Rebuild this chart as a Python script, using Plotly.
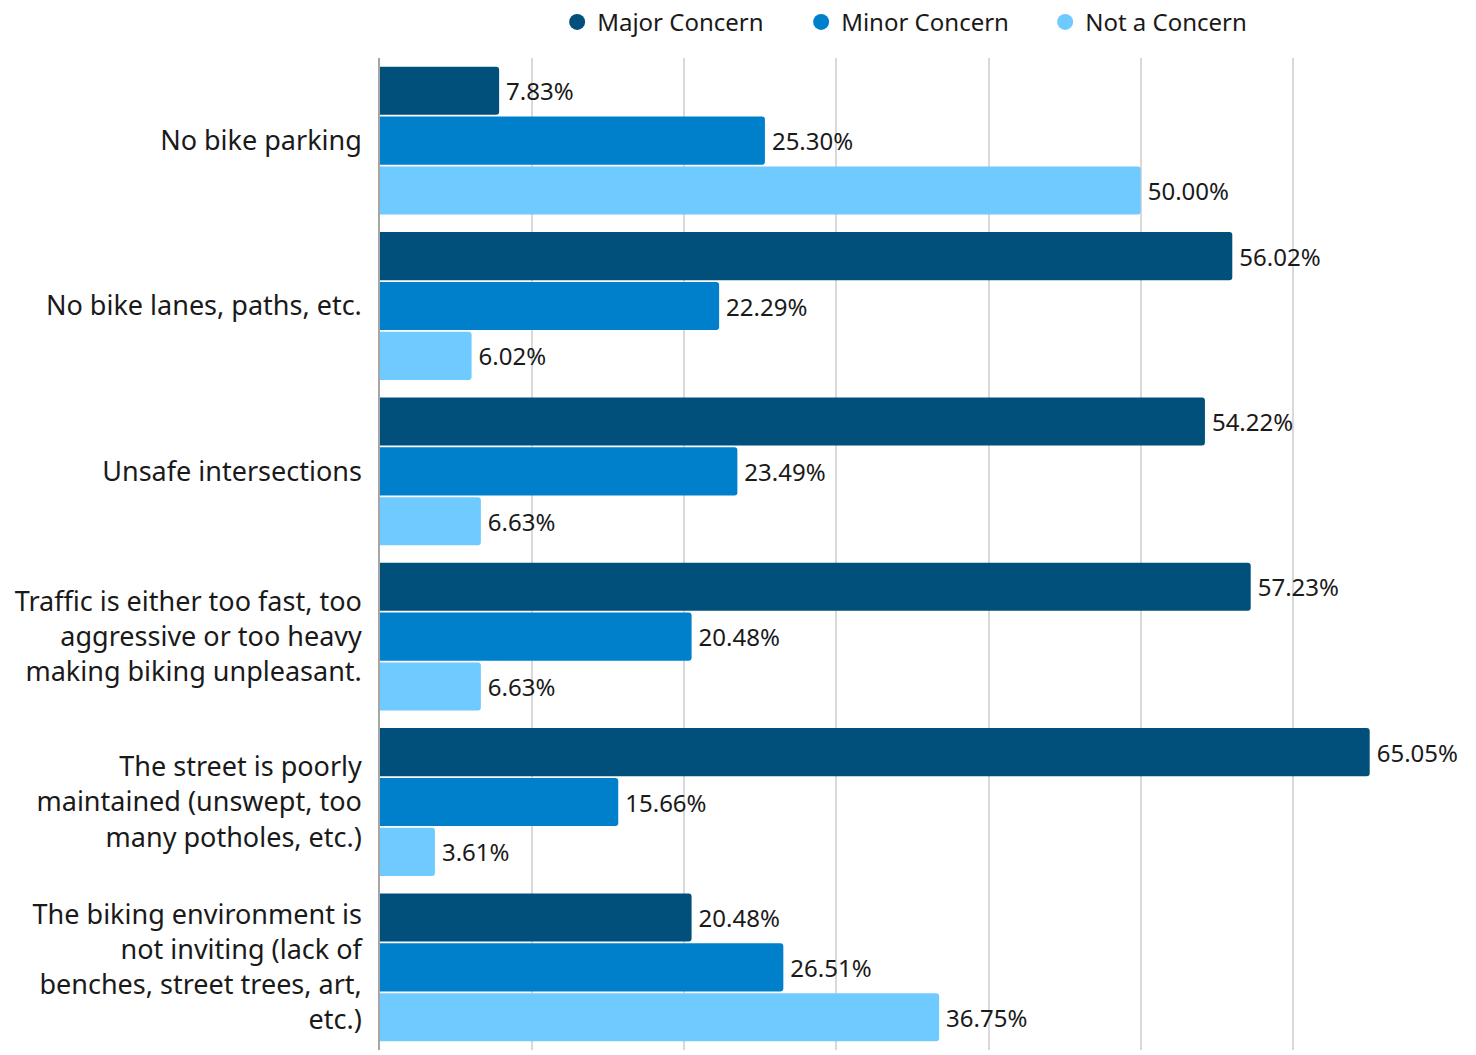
import plotly.graph_objects as go

categories = [
    "No bike parking",
    "No bike lanes, paths, etc.",
    "Unsafe intersections",
    "Traffic is either too fast, too<br>aggressive or too heavy<br>making biking unpleasant.",
    "The street is poorly<br>maintained (unswept, too<br>many potholes, etc.)",
    "The biking environment is<br>not inviting (lack of<br>benches, street trees, art,<br>etc.)",
]
series_names = ["Major Concern", "Minor Concern", "Not a Concern"]
major = [7.83, 56.02, 54.22, 57.23, 65.05, 20.48]
minor = [25.30, 22.29, 23.49, 20.48, 15.66, 26.51]
not_concern = [50.00, 6.02, 6.63, 6.63, 3.61, 36.75]
colors = ["#014f7b", "#0080cb", "#6fcaff"]

FONT = "Noto Sans"
fig = go.Figure()
for name, vals, col in zip(series_names, [major, minor, not_concern], colors):
    fig.add_trace(go.Bar(
        y=categories, x=vals, orientation="h", name=name,
        marker=dict(color=col, line=dict(width=0)),
        texttemplate="\u2009%{x:.2f}%", textposition="outside",
        textfont=dict(size=24, color="#1a1a1a", family=FONT),
        cliponaxis=False, showlegend=False,
    ))
    fig.add_trace(go.Scatter(
        x=[None], y=[None], mode="markers", name=name,
        marker=dict(symbol="circle", size=24, color=col),
    ))

fig.update_layout(
    width=1476, height=1055,
    margin=dict(l=380, r=31, t=58, b=5, autoexpand=False),
    paper_bgcolor="white", plot_bgcolor="white",
    barmode="group", bargap=0.095, bargroupgap=0.035,
    barcornerradius=3,
    font=dict(family=FONT, color="#1a1a1a"),
    legend=dict(orientation="h", x=0.51, xanchor="center", y=1.036, yanchor="middle",
                yref="paper", font=dict(size=24, family=FONT), itemwidth=30,
                traceorder="normal", entrywidth=199, entrywidthmode="pixels"),
    xaxis=dict(range=[0, 70], dtick=10, showticklabels=False, showgrid=True,
               gridcolor="#d9d9d9", gridwidth=1.5, zeroline=False, showline=False,
               automargin=False),
    yaxis=dict(autorange="reversed", tickfont=dict(size=27, family=FONT, color="#1a1a1a"),
               showline=True, linecolor="#a6a6a6", linewidth=1.5, ticklabelstandoff=11,
               showgrid=False, automargin=False),
)
fig.write_html("out.html", config={"displayModeBar": False},
               post_script="document.body.style.margin='0';")
